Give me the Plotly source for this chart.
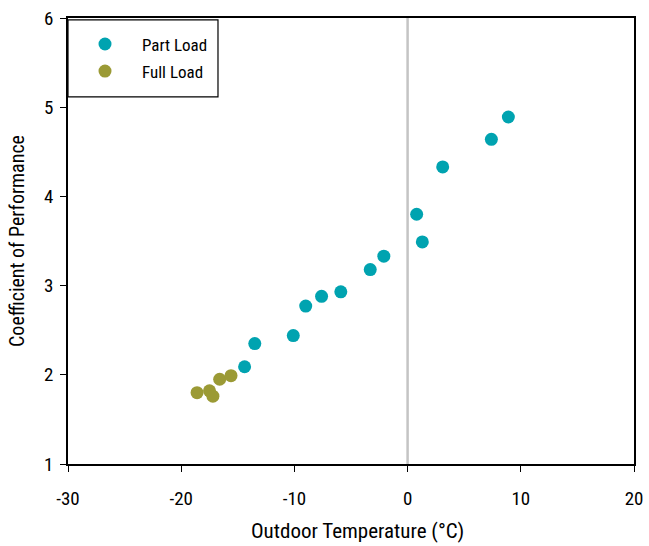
import plotly.graph_objects as go

part_temp = [-14.4, -13.5, -10.1, -9.0, -7.6, -5.9, -3.3, -2.1, 0.8, 1.3, 3.1, 7.4, 8.9]
part_cop = [2.09, 2.35, 2.44, 2.77, 2.88, 2.93, 3.18, 3.33, 3.80, 3.49, 4.33, 4.64, 4.89]
full_temp = [-18.6, -17.5, -17.2, -16.6, -15.6]
full_cop = [1.80, 1.82, 1.76, 1.95, 1.99]
x_ticks = [-30, -20, -10, 0, 10, 20]
x_labels = ["-30", "-20", "-10", "0", "10", "20"]
y_ticks = [1, 2, 3, 4, 5, 6]

FONT = "Roboto Condensed, Liberation Sans Narrow, Roboto, sans-serif"

fig = go.Figure()
fig.add_trace(go.Scatter(x=part_temp, y=part_cop, mode="markers", name="Part Load",
                         legendgroup="a",
                         marker=dict(color="#00a3b0", size=13)))
fig.add_trace(go.Scatter(x=full_temp, y=full_cop, mode="markers", name="Full Load",
                         legendgroup="b",
                         marker=dict(color="#9b9a35", size=13)))

fig.add_shape(type="line", x0=0, x1=0, y0=1, y1=6, xref="x", yref="y",
              line=dict(color="#c4c4c4", width=2.5), layer="below")
# legend frame
fig.add_shape(type="rect", xref="paper", yref="paper", x0=0, x1=0.265, y0=0.823, y1=0.996,
              line=dict(color="black", width=1.2), fillcolor="white", layer="below")

fig.add_annotation(text="Outdoor Temperature (°C)", xref="paper", yref="paper",
                   x=0.512, y=0, yshift=-67, yanchor="middle", showarrow=False,
                   font=dict(family=FONT, size=21, color="black"))

fig.update_layout(
    width=649, height=546,
    margin=dict(l=68, r=15, t=18, b=82),
    paper_bgcolor="white", plot_bgcolor="white",
    font=dict(family=FONT, size=19, color="black"),
    showlegend=True,
    legend=dict(x=0.0, y=0.981, xanchor="left", yanchor="top",
                borderwidth=0, bgcolor="rgba(0,0,0,0)",
                font=dict(family=FONT, size=17, color="black"), itemwidth=64, tracegroupgap=2),
)
fig.update_xaxes(range=[-30, 20], tickvals=x_ticks, ticktext=x_labels, showgrid=False, zeroline=False,
                 showline=True, linecolor="black", linewidth=1.5, mirror=True,
                 ticks="outside", ticklen=6, tickcolor="black", automargin=False,
                 ticklabelstandoff=10, ticklabeloverflow="allow")
fig.update_yaxes(range=[1, 6], tickvals=y_ticks, showgrid=False, zeroline=False,
                 showline=True, linecolor="black", linewidth=1.5, mirror=True,
                 ticks="outside", ticklen=6, tickcolor="black", automargin=False,
                 ticklabelstandoff=3, ticklabeloverflow="allow",
                 title=dict(text="Coefficient of Performance", standoff=14,
                            font=dict(family=FONT, size=20, color="black")))

fig.write_html("out.html", config={"displayModeBar": False},
               post_script="document.body.style.margin='0';")
